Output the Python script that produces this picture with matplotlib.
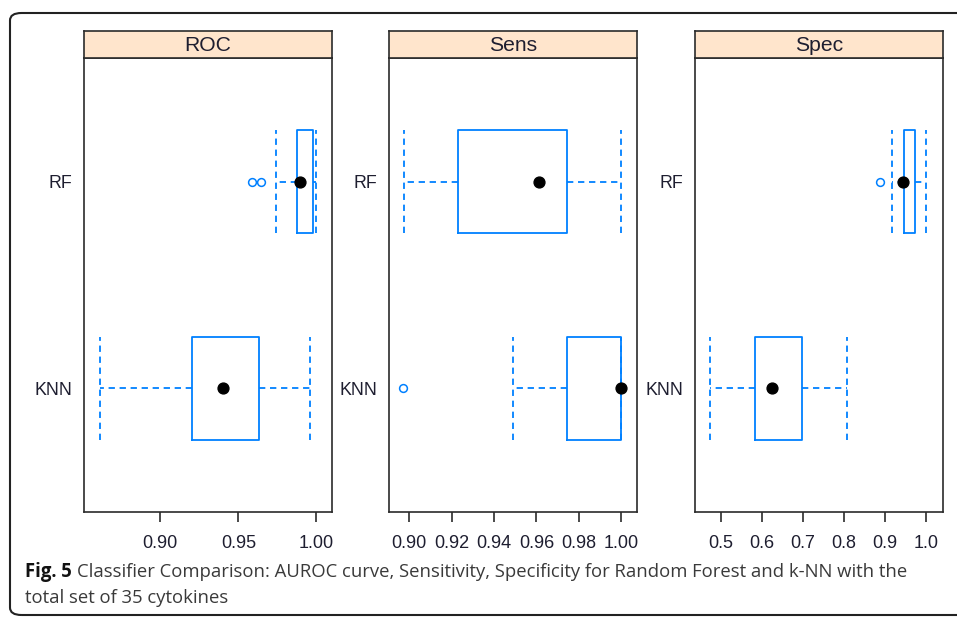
import matplotlib
matplotlib.use("Agg")
import matplotlib.pyplot as plt
from matplotlib.patches import FancyBboxPatch

# ---- data (lattice bwplot of resamples) ----
metrics = ["ROC", "Sens", "Spec"]
models = ["KNN", "RF"]   # bottom to top

# [whislo, q1, med, q3, whishi] per model
roc_knn = [0.8613, 0.9201, 0.9400, 0.9633, 0.9960]
roc_rf = [0.9744, 0.9878, 0.9897, 0.9980, 1.0000]
sens_knn = [0.9490, 0.9743, 1.0000, 1.0000, 1.0000]
sens_rf = [0.8975, 0.9232, 0.9610, 0.9745, 1.0000]
spec_knn = [0.4733, 0.5827, 0.6257, 0.6977, 0.8070]
spec_rf = [0.9165, 0.9473, 0.9450, 0.9740, 1.0000]

roc_out_knn, roc_out_rf = [], [0.9588, 0.9646]
sens_out_knn, sens_out_rf = [0.8972], []
spec_out_knn, spec_out_rf = [], [0.8882]

roc_ticks = [0.90, 0.95, 1.00]
sens_ticks = [0.90, 0.92, 0.94, 0.96, 0.98, 1.00]
spec_ticks = [0.5, 0.6, 0.7, 0.8, 0.9, 1.0]

panels = [
    ("ROC", [roc_knn, roc_rf], [roc_out_knn, roc_out_rf], roc_ticks, "%.2f", (0.8513, 1.0096)),
    ("Sens", [sens_knn, sens_rf], [sens_out_knn, sens_out_rf], sens_ticks, "%.2f", (0.8905, 1.0072)),
    ("Spec", [spec_knn, spec_rf], [spec_out_knn, spec_out_rf], spec_ticks, "%.1f", (0.4368, 1.0404)),
]

caption_bold = "Fig. 5"
caption_line1 = "Classifier Comparison: AUROC curve, Sensitivity, Specificity for Random Forest and k-NN with the"
caption_line2 = "total set of 35 cytokines"

W, H = 957, 618
BLUE = "#0080ff"
DARK = "#2b2b2b"

plt.rcParams["font.family"] = ["Liberation Sans", "DejaVu Sans"]
fig = plt.figure(figsize=(W / 100, H / 100), dpi=100)

# outer rounded frame, runs off the right edge
frame = FancyBboxPatch((10 / W, 3 / H), 1.2, (H - 16) / H,
                       boxstyle="round,pad=0,rounding_size=0.012",
                       transform=fig.transFigure, fill=False,
                       edgecolor="#222222", linewidth=1.5, clip_on=False)
fig.patches.append(frame)

lefts = [84, 389, 695]
width_px = 247.5
top_px, bot_px, strip_top = 58, 512, 30.5

for (name, stats, outs, ticks, fmt, xlim), lpx in zip(panels, lefts):
    ax = fig.add_axes([lpx / W, 1 - bot_px / H, width_px / W, (bot_px - top_px) / H])
    bxp_stats = []
    for s, o, m in zip(stats, outs, models):
        bxp_stats.append(dict(whislo=s[0], q1=s[1], med=s[2], q3=s[3], whishi=s[4],
                              fliers=o, label=m))
    ax.bxp(bxp_stats, positions=[1, 2], widths=0.5, capwidths=0.5,
           orientation="horizontal",
           boxprops=dict(color=BLUE, linewidth=1.3),
           whiskerprops=dict(color=BLUE, linewidth=1.3, linestyle=(0, (3.5, 2.6))),
           capprops=dict(color=BLUE, linewidth=1.3, linestyle=(0, (3.5, 2.6))),
           medianprops=dict(linewidth=0),
           flierprops=dict(marker="o", markersize=5.6, markerfacecolor="none",
                           markeredgecolor=BLUE, markeredgewidth=1.1))
    meds = [s[2] for s in stats]
    ax.plot(meds, [1, 2], "o", color="black", markersize=7.8, zorder=5, clip_on=False)

    ax.set_xlim(*xlim)
    ax.set_ylim(0.4, 2.6)
    ax.set_xticks(ticks)
    ax.set_xticklabels([fmt % t for t in ticks])
    ax.set_yticks([1, 2])
    ax.set_yticklabels(models)
    ax.tick_params(axis="x", length=7.2, width=1.2, color=DARK, pad=9.3,
                   labelsize=13, labelcolor="#1e1e30")
    ax.tick_params(axis="y", length=0, pad=8.5, labelsize=12.8, labelcolor="#1e1e30")
    for sp in ax.spines.values():
        sp.set_color(DARK)
        sp.set_linewidth(1.2)

    # strip on top of the panel
    sax = fig.add_axes([lpx / W, 1 - top_px / H, width_px / W, (top_px - strip_top) / H])
    sax.set_facecolor("#ffe5cc")
    sax.set_xticks([])
    sax.set_yticks([])
    for sp in sax.spines.values():
        sp.set_color(DARK)
        sp.set_linewidth(1.2)
    sax.text(0.5, 0.44, name, ha="center", va="center", fontsize=15.2,
             color="#1e1e30", transform=sax.transAxes)

# caption under the panels
cap_font = ["Open Sans", "DejaVu Sans"]
cap_size = 13.35
t_bold = fig.text(25 / W, 1 - 577 / H, caption_bold, fontsize=cap_size, fontweight="bold",
                  family=cap_font, color="#111111", va="baseline")
fig.canvas.draw()
bb = t_bold.get_window_extent()
fig.text((bb.x1 + 5) / W, 1 - 577 / H, caption_line1, fontsize=cap_size,
         family=cap_font, color="#3a3a3a", va="baseline")
fig.text(25 / W, 1 - 603 / H, caption_line2, fontsize=cap_size,
         family=cap_font, color="#3a3a3a", va="baseline")

fig.savefig("out.png", dpi=100)
